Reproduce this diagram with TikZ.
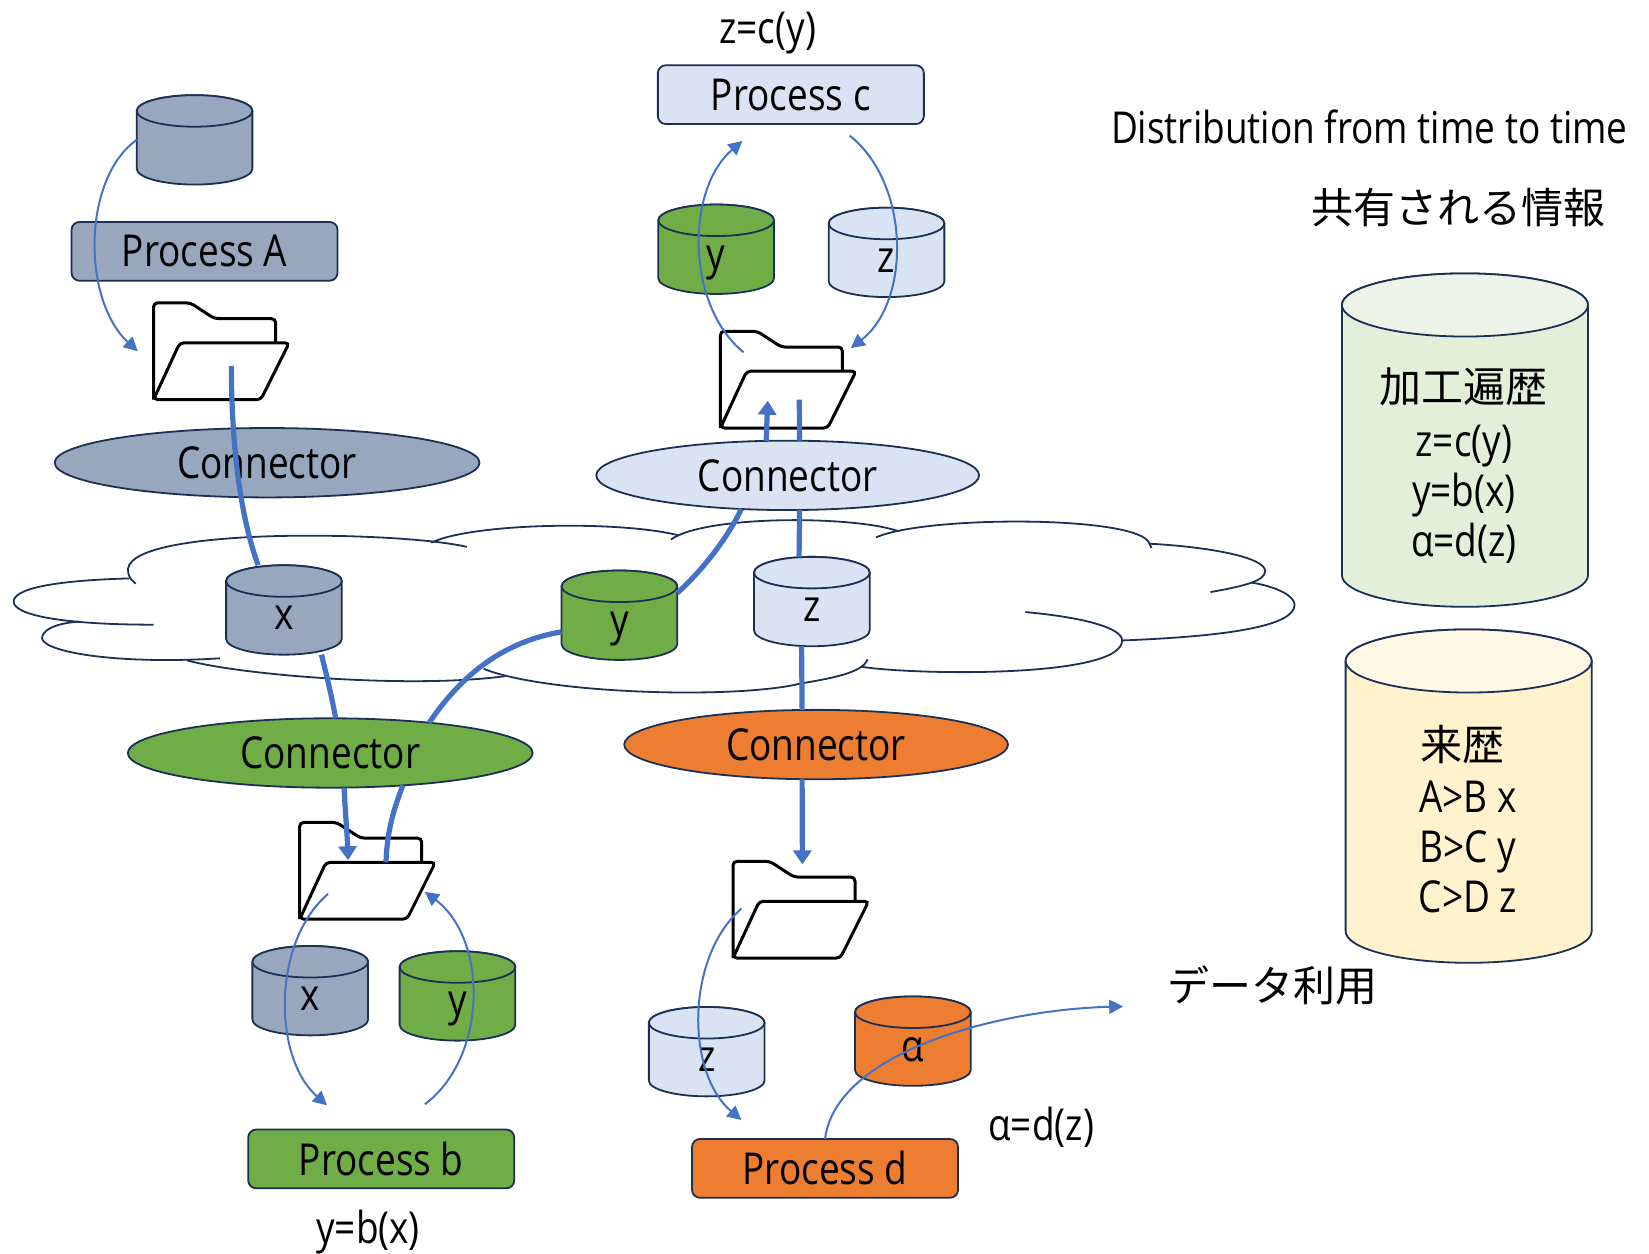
\documentclass[tikz,border=0pt]{standalone}
\usepackage{fontspec}
\setmainfont[FakeStretch=.84]{Open Sans}
\newfontfamily\cjk{Noto Sans CJK JP}
\usetikzlibrary{shapes.geometric,arrows.meta}
\definecolor{slate}{HTML}{98A7BD}
\definecolor{leaf}{HTML}{70AD47}
\definecolor{pale}{HTML}{DAE3F3}
\definecolor{amber}{HTML}{ED7D31}
\definecolor{navy}{HTML}{1B3055}
\definecolor{wire}{HTML}{4472C4}
\definecolor{mossbody}{HTML}{E2F0D9}
\definecolor{mossend}{HTML}{EDF4E7}
\definecolor{creambody}{HTML}{FFF2CC}
\definecolor{creamend}{HTML}{FFF8E5}
% name, x, y, half width, half body, end radius, body colour, end colour, text
\newcommand{\store}[9]{
  \begin{scope}[shift={(#2,#3)}]
    \filldraw[draw=navy, line width=.9pt, fill=#7] (-#4,-#5) -- (-#4,#5)
      arc[start angle=180, end angle=0, x radius=#4, y radius=#6] -- (#4,-#5)
      arc[start angle=0, end angle=-180, x radius=#4, y radius=#6] -- cycle;
    \filldraw[draw=navy, line width=.9pt, fill=#8] (0,-#5) ellipse[x radius=#4, y radius=#6];
  \end{scope}
  \node[minimum width=2*#4*.52583pt, minimum height=(2*#5+2*#6)*.52583pt] (#1) at (#2,#3) {\raisebox{-10pt}[0pt][0pt]{#9}};
}
\begin{document}
\begin{tikzpicture}[x=.52583pt, y=-.52583pt,
  every node/.style={font=\fontsize{22}{25}\selectfont, inner sep=0pt, outer sep=0pt},
  proc/.style={draw=navy, line width=.9pt, rounded corners=4pt, minimum width=133pt, minimum height=29.4pt},
  conn/.style={ellipse, draw=navy, line width=.9pt, minimum height=34.7pt},
  cloudline/.style={draw=navy, line width=.9pt},
  thick wire/.style={draw=wire, line width=2.6pt},
  thin wire/.style={draw=wire, line width=1pt, -{Triangle[length=7pt,width=7pt]}},
  thick arrow/.style={thick wire, -{Triangle[length=7pt,width=9pt]}},
  folder/.pic={
    \draw[black, line width=1.5pt, rounded corners=2pt]
      (0,92) -- (0,0) -- (35,0) -- (58,15) -- (116,15) -- (116,38);
    \draw[black, line width=1.5pt, rounded corners=2pt]
      (0,92) -- (25,38) -- (129,38) -- (102,92) -- cycle;
  }]
  \useasboundingbox (0,0) rectangle (1568,1192);

  % cloud
  \draw[cloudline] (444,520) .. controls (380,505) and (110,500) .. (122,545) .. controls (123,550) and (126,552) .. (129,555);
  \draw[cloudline] (123,550) .. controls (50,552) and (13,560) .. (13,572) .. controls (13,585) and (60,594) .. (146,594);
  \draw[cloudline] (75,591) .. controls (50,593) and (40,600) .. (40,607) .. controls (42,620) and (110,632) .. (209,626);
  \draw[cloudline] (178,628) .. controls (230,642) and (390,655) .. (480,643);
  \draw[cloudline] (460,636) .. controls (520,660) and (700,665) .. (761,650) .. controls (790,645) and (820,640) .. (825,627);
  \draw[cloudline] (819,634) .. controls (870,642) and (1067,645) .. (1067,609) .. controls (1067,597) and (1030,587) .. (975,582);
  \draw[cloudline] (1067,609) .. controls (1170,605) and (1231,595) .. (1231,575) .. controls (1231,567) and (1215,558) .. (1190,554);
  \draw[cloudline] (1151,563) .. controls (1185,557) and (1203,552) .. (1203,543) .. controls (1203,530) and (1150,520) .. (1093,517);
  \draw[cloudline] (833,511) .. controls (880,490) and (1085,490) .. (1093,517) -- (1095,521);
  \draw[cloudline] (638,513) .. controls (670,490) and (810,490) .. (854,505);
  \draw[cloudline] (410,516) .. controls (450,497) and (590,495) .. (645,509);

  % process boxes
  \node[proc, fill=slate] (procA) at (194.5,239) {Process A};
  \node[proc, fill=pale] (procC) at (752,90) {Process c};
  \node[proc, fill=leaf] (procB) at (362.5,1102) {Process b};
  \node[proc, fill=amber] (procD) at (784.5,1111) {Process d};

  % connectors
  \node[conn, fill=slate, minimum width=212.4pt] (connA) at (254,440) {Connector};
  \node[conn, fill=pale, minimum width=191.4pt] (connC) at (749,452) {Connector};
  \node[conn, fill=leaf, minimum width=202.4pt] (connB) at (314,716) {Connector};
  \node[conn, fill=amber, minimum width=191.9pt] (connD) at (776,708) {Connector};

  % stores
  \store{dbA}{185}{133}{55}{27.5}{15}{slate}{slate}{}
  \store{dbCy}{681}{237}{55}{27.5}{15}{leaf}{leaf}{y}
  \store{dbCz}{843}{240}{55}{27.5}{15}{pale}{pale}{z}
  \store{shareX}{270}{580}{55}{27.5}{15}{slate}{slate}{x}
  \store{shareY}{589}{585}{55}{27.5}{15}{leaf}{leaf}{y}
  \store{shareZ}{772}{572}{55}{27.5}{15}{pale}{pale}{z}
  \store{dbBx}{295}{942}{55}{27.5}{15}{slate}{slate}{x}
  \store{dbBy}{435}{947}{55}{27.5}{15}{leaf}{leaf}{y}
  \store{dbDz}{672}{1000}{55}{27.5}{15}{pale}{pale}{z}
  \store{dbDa}{868}{990}{55}{27.5}{15}{amber}{amber}{α}
  \store{histA}{1393}{418.5}{117}{128.5}{30}{mossbody}{mossend}{}
  \store{histB}{1396.5}{757}{117}{128.5}{30}{creambody}{creamend}{}

  \pic at (146,288) {folder};
  \pic at (685,315) {folder};
  \pic at (285,782) {folder};
  \pic at (697,819) {folder};

  % free ends
  \coordinate (foldAout) at (220,348);
  \coordinate (foldAin) at (131,334);
  \coordinate (foldCa) at (730,381);
  \coordinate (foldCb) at (760,380);
  \coordinate (foldCc) at (707,335);
  \coordinate (foldCd) at (809,331);
  \coordinate (topCa) at (706,134);
  \coordinate (topCb) at (808,129);
  \coordinate (foldBa) at (331,818);
  \coordinate (foldBb) at (367,820);
  \coordinate (foldBc) at (312,850);
  \coordinate (foldBd) at (404,848);
  \coordinate (botBa) at (311,1051);
  \coordinate (botBb) at (404,1050);
  \coordinate (foldDa) at (763,822);
  \coordinate (foldDb) at (705,864);
  \coordinate (botDa) at (705,1065);
  \coordinate (useEnd) at (1068,957);

  \draw[thick wire] (foldAout) .. controls (220,420) and (228,490) .. (shareX.120.8);
  \draw[thick wire] (shareX.-50.5) .. controls (310,640) and (315,660) .. (connB.81.4);
  \draw[thick wire] (shareY.196) .. controls (480,610) and (440,640) .. (connB.17.7);
  \draw[thick wire] (shareY.21.8) .. controls (665,545) and (690,515) .. (connC.-144);
  \draw[thick wire] (connB.-24.8) .. controls (372,775) and (368,795) .. (foldBb);
  \draw[thick arrow] (connB.-68) .. controls (328,770) and (330,790) .. (foldBa);
  \draw[thick arrow] (connC.122) -- (foldCa);
  \draw[thick wire] (connC.71.6) -- (foldCb);
  \draw[thick wire] (connC.-71.6) -- (shareZ.106);
  \draw[thick wire] (shareZ.-103) -- (connD.112);
  \draw[thick arrow] (connD.-112) -- (foldDa);

  \draw[thin wire] (dbA.west) .. controls (78,170) and (78,285) .. (foldAin);
  \draw[thin wire] (foldCc) .. controls (652,290) and (652,180) .. (topCa);
  \draw[thin wire] (topCb) .. controls (866,175) and (866,287) .. (foldCd);
  \draw[thin wire] (foldBc) .. controls (259,895) and (259,1005) .. (botBa);
  \draw[thin wire] (botBb) .. controls (464,1005) and (464,893) .. (foldBd);
  \draw[thin wire] (foldDb) .. controls (652,910) and (652,1020) .. (botDa);
  \draw[thin wire] (procD.north) .. controls (795,1000) and (950,960) .. (useEnd);

  % labels
  \node (lblC) at (730,31) {z=c(y)};
  \node (lblB) at (350,1172) {y=b(x)};
  \node (lblD) at (990,1072) {α=d(z)};
  \node (title) at (1302,121) {Distribution from time to time};
  \node[font=\cjk\fontsize{21}{25}\selectfont] (shared) at (1387,197) {共有される情報};
  \node[font=\cjk\fontsize{21}{25}\selectfont] (use) at (1210,937) {データ利用};
  \node[font=\cjk\fontsize{21}{25}\selectfont] (histAhead) at (1392,368) {加工遍歴};
  \node[align=center, anchor=north] (histAtext) at (1392,404) {z=c(y)\\y=b(x)\\α=d(z)};
  \node[font=\cjk\fontsize{21}{25}\selectfont] (histBhead) at (1391,708) {来歴};
  \node[align=center, anchor=north] (histBtext) at (1396,743) {A>B x\\B>C y\\C>D z};
\end{tikzpicture}
\end{document}
